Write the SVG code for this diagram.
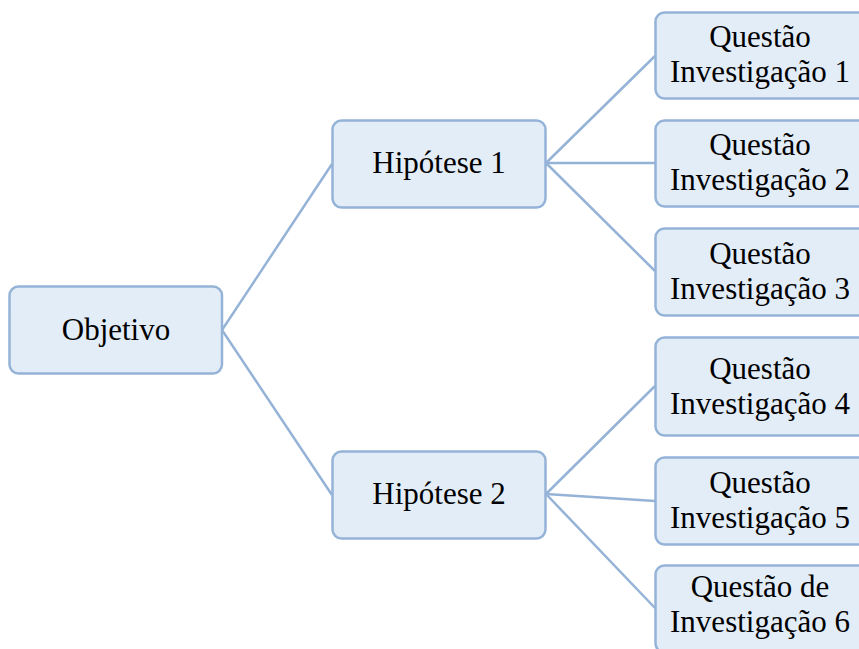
<svg xmlns="http://www.w3.org/2000/svg" width="859" height="649" viewBox="0 0 859 649">
<style>
.box{fill:#E3EDF8;stroke:#95B3D7;stroke-width:2.5}
.lbl{font-family:'Liberation Serif','Times New Roman',serif;font-size:31px;fill:#000;text-anchor:middle}
.con{stroke:#95B3D7;stroke-width:2.5;fill:none}
</style>
<rect width="859" height="649" fill="#fff"/>
<g id="connectors">
<line class="con" x1="222" y1="330" x2="332" y2="164"/>
<line class="con" x1="222" y1="330" x2="332" y2="495"/>
<line class="con" x1="546" y1="163" x2="655" y2="56"/>
<line class="con" x1="546" y1="163" x2="655" y2="163"/>
<line class="con" x1="546" y1="163" x2="655" y2="271"/>
<line class="con" x1="546" y1="494" x2="655" y2="386"/>
<line class="con" x1="546" y1="494" x2="655" y2="501"/>
<line class="con" x1="546" y1="494" x2="655" y2="608"/>
</g>
<g id="objetivo">
<rect class="box" x="9.5" y="286.5" width="212.5" height="87" rx="9"/>
<text class="lbl" x="116" y="340" font-family="Liberation Serif, serif">Objetivo</text>
</g>
<g id="hipotese1">
<rect class="box" x="332.5" y="120.5" width="213" height="87" rx="9"/>
<text class="lbl" x="439" y="173">Hipótese 1</text>
</g>
<g id="hipotese2">
<rect class="box" x="332.5" y="451.5" width="213" height="87" rx="9"/>
<text class="lbl" x="439" y="504">Hipótese 2</text>
</g>
<g id="q1">
<rect class="box" x="655.5" y="12.5" width="213" height="86" rx="9"/>
<text class="lbl" x="760" y="47">Questão</text>
<text class="lbl" x="760" y="82">Investigação 1</text>
</g>
<g id="q2">
<rect class="box" x="655.5" y="120.5" width="213" height="86" rx="9"/>
<text class="lbl" x="760" y="155">Questão</text>
<text class="lbl" x="760" y="190">Investigação 2</text>
</g>
<g id="q3">
<rect class="box" x="655.5" y="228.5" width="213" height="87" rx="9"/>
<text class="lbl" x="760" y="264">Questão</text>
<text class="lbl" x="760" y="299">Investigação 3</text>
</g>
<g id="q4">
<rect class="box" x="655.5" y="337.5" width="213" height="98" rx="9"/>
<text class="lbl" x="760" y="379">Questão</text>
<text class="lbl" x="760" y="414">Investigação 4</text>
</g>
<g id="q5">
<rect class="box" x="655.5" y="457.5" width="213" height="87" rx="9"/>
<text class="lbl" x="760" y="493">Questão</text>
<text class="lbl" x="760" y="528">Investigação 5</text>
</g>
<g id="q6">
<rect class="box" x="655.5" y="565.5" width="213" height="87" rx="9"/>
<text class="lbl" x="760" y="597">Questão de</text>
<text class="lbl" x="760" y="632">Investigação 6</text>
</g>
</svg>
